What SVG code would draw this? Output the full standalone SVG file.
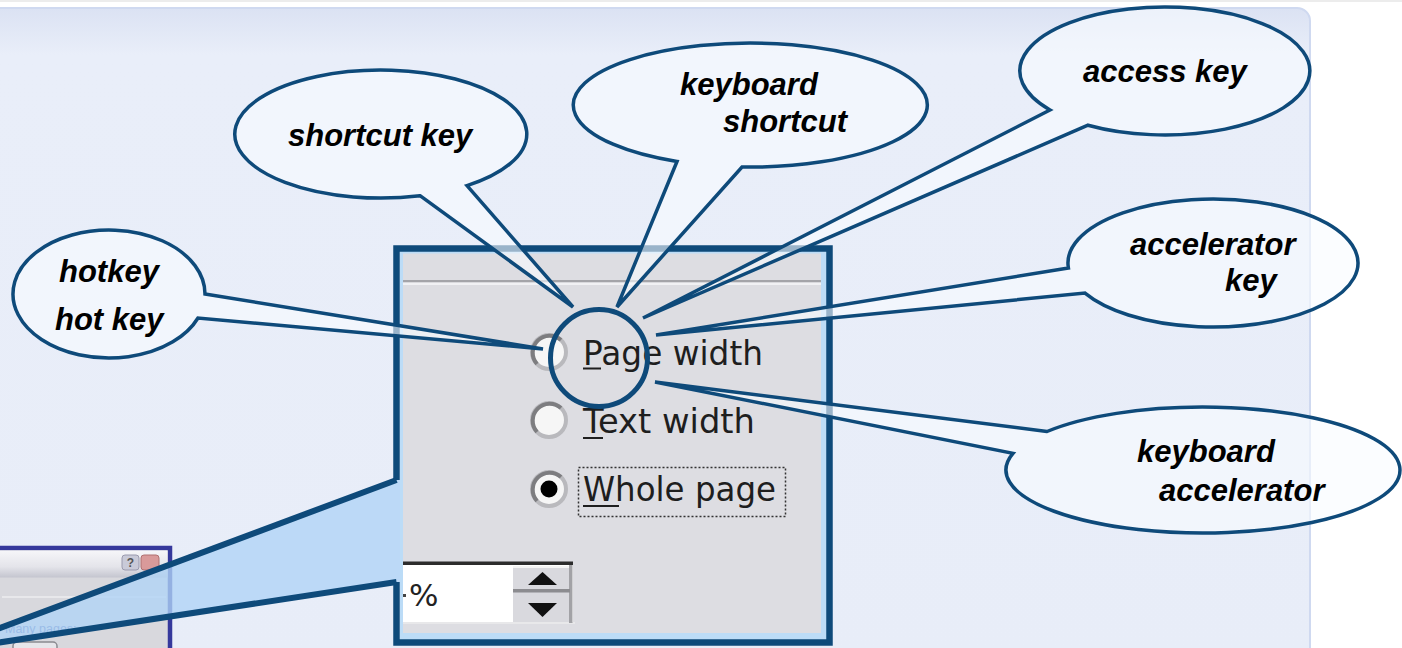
<svg xmlns="http://www.w3.org/2000/svg" width="1402" height="648" viewBox="0 0 1402 648">
  <defs>
    <linearGradient id="panelGrad" x1="0" y1="0" x2="0" y2="1">
      <stop offset="0" stop-color="#dbe2f3"/>
      <stop offset="0.07" stop-color="#e9eef9"/>
      <stop offset="1" stop-color="#e8edf8"/>
    </linearGradient>
    <linearGradient id="titleGrad" x1="0" y1="0" x2="0" y2="1">
      <stop offset="0" stop-color="#f6f6f9"/>
      <stop offset="0.6" stop-color="#e4e4ea"/>
      <stop offset="1" stop-color="#c4c5cf"/>
    </linearGradient>
    <style>
      .bubble { fill: #f8fbff; fill-opacity: 0.6; stroke: #0e4a7a; stroke-width: 3.5; stroke-linejoin: miter; }
      .lbl { font-family: "Liberation Sans", Arial, sans-serif; font-weight: bold; font-style: italic; font-size: 31px; fill: #000; }
      .ui { font-family: "DejaVu Sans", Tahoma, sans-serif; font-size: 34px; fill: #1e1e1e; }
      .frame { fill: none; stroke: #0e4a7a; stroke-width: 6.5; stroke-linejoin: miter; }
      .radio { fill: #f6f6f6; stroke: #b9b9bd; stroke-width: 4; }
      .radioShade { fill: none; stroke: #7d7d80; stroke-width: 4; }
      .ul { stroke: #1e1e1e; stroke-width: 2; }
    </style>
  </defs>

  <!-- page background -->
  <rect x="0" y="0" width="1402" height="648" fill="#ffffff"/>
  <rect x="0" y="0" width="1402" height="2" fill="#ececec"/>
  <rect id="panel" x="-20" y="8" width="1330" height="670" rx="13" fill="url(#panelGrad)" stroke="#cfd9f0" stroke-width="2"/>

  <!-- small dialog thumbnail -->
  <g id="thumbnail">
    <rect x="-4" y="548" width="174" height="110" fill="#d8d8dd" stroke="#35389c" stroke-width="4.5"/>
    <rect x="0" y="550.5" width="167.5" height="27" fill="url(#titleGrad)"/>
    <rect x="122" y="555" width="17" height="15" rx="3" fill="#c9cad8" stroke="#9a9aae" stroke-width="1"/>
    <text x="130.5" y="567" font-family="Liberation Sans, Arial, sans-serif" font-size="12" font-weight="bold" fill="#555" text-anchor="middle">?</text>
    <rect x="141" y="555" width="18" height="15" rx="3" fill="#d99a9a" stroke="#b07070" stroke-width="1"/>
    <line x1="2" y1="597" x2="166" y2="597" stroke="#eeeeef" stroke-width="1.5"/>
    <text x="5" y="633" font-family="Liberation Sans, Arial, sans-serif" font-size="12.5" fill="#4a68b0">Many pages:</text>
    <rect x="13" y="642" width="44" height="14" rx="4" fill="#e6e6ea" stroke="#8a8a90" stroke-width="1.5"/>
  </g>

  <!-- zoom cone -->
  <g id="connectors-cone">
    <polygon points="-6,630.2 396.5,480 403,480 403,582 396.5,582 -6,643.3" fill="#b0d4f6" fill-opacity="0.78"/>
  </g>

  <!-- enlarged dialog detail -->
  <g id="detail-box">
    <rect x="400" y="251" width="427" height="389" fill="#bcdcf7"/>
    <rect x="403" y="253.5" width="418" height="379.5" fill="#dddde2"/>
    <rect x="403" y="280" width="418" height="2.5" fill="#a4a4a9"/>
    <rect x="403" y="282.5" width="418" height="2.5" fill="#f1f1f4"/>

    <g id="radio-page">
      <circle class="radio" cx="549" cy="352" r="17"/>
      <path class="radioShade" d="M 537 364 A 17 17 0 0 1 561 340"/>
      <text class="ui" x="583" y="365" textLength="180" lengthAdjust="spacingAndGlyphs">Page width</text>
      <line class="ul" x1="583" y1="368.5" x2="601" y2="368.5"/>
    </g>
    <g id="radio-text">
      <circle class="radio" cx="549" cy="420" r="17"/>
      <path class="radioShade" d="M 537 432 A 17 17 0 0 1 561 408"/>
      <text class="ui" x="583" y="433" textLength="172" lengthAdjust="spacingAndGlyphs">Text width</text>
      <line class="ul" x1="583" y1="438" x2="603" y2="438"/>
    </g>
    <g id="radio-whole">
      <circle class="radio" cx="549" cy="489" r="17"/>
      <path class="radioShade" d="M 537 501 A 17 17 0 0 1 561 477"/>
      <circle cx="549" cy="489" r="8.5" fill="#000"/>
      <text class="ui" x="583" y="501" textLength="193" lengthAdjust="spacingAndGlyphs">Whole page</text>
      <line class="ul" x1="583" y1="506" x2="619" y2="506"/>
      <rect x="578.5" y="467.5" width="207" height="49" fill="none" stroke="#333" stroke-width="1.5" stroke-dasharray="2 2"/>
    </g>

    <g id="spinbox">
      <rect x="403" y="562" width="170" height="62" fill="#ffffff"/>
      <rect x="403" y="561.5" width="170" height="3.5" fill="#2c2c2c"/>
      <rect x="403" y="622" width="172" height="2" fill="#e8e8ea"/>
      <rect x="513" y="566" width="57" height="56" fill="#d9d9de"/>
      <rect x="513" y="566" width="57" height="2" fill="#f4f4f4"/>
      <rect x="569" y="565" width="3.5" height="58" fill="#a2a2a6"/>
      <rect x="513" y="589" width="57" height="3.5" fill="#8c8c90"/>
      <polygon points="528,585 557,585 542.5,572" fill="#111"/>
      <polygon points="528,603 557,603 542.5,617" fill="#111"/>
      <rect x="403" y="594" width="3" height="3" fill="#444"/>
      <text x="409" y="606" font-family="DejaVu Sans, Tahoma, sans-serif" font-size="31" fill="#222">%</text>
    </g>

    <!-- frame with opening for the zoom cone -->
    <path class="frame" d="M 396.5 480 V 248.5 H 829.5 V 642.5 H 396.5 V 582"/>
  </g>

  <!-- cone edges -->
  <g id="connectors">
    <path d="M -6 630.2 L 396.5 480" fill="none" stroke="#0e4a7a" stroke-width="6"/>
    <path d="M -6 643.3 L 396.5 582" fill="none" stroke="#0e4a7a" stroke-width="6"/>
  </g>

  <!-- callout bubbles -->
  <g id="bubble-hotkey">
    <path class="bubble" d="M 205 294 L 543 349 L 198 318 A 96 64 0 1 1 205 294 Z"/>
    <text class="lbl" x="59" y="282">hotkey</text>
    <text class="lbl" x="55" y="330">hot key</text>
  </g>
  <g id="bubble-shortcut-key">
    <path class="bubble" d="M 420 195.7 L 573 307 L 467 185.7 A 146 64 0 1 0 420 195.7 Z"/>
    <text class="lbl" x="288" y="146">shortcut key</text>
  </g>
  <g id="bubble-keyboard-shortcut">
    <path class="bubble" d="M 677 161.5 L 617 307 L 742 167 A 177 62 0 1 0 677 161.5 Z"/>
    <text class="lbl" x="680" y="95">keyboard</text>
    <text class="lbl" x="723" y="132">shortcut</text>
  </g>
  <g id="bubble-access-key">
    <path class="bubble" d="M 1050 110 L 643 318 L 1088 125.2 A 145 64 0 1 0 1050 110 Z"/>
    <text class="lbl" x="1083" y="82">access key</text>
  </g>
  <g id="bubble-accelerator-key">
    <path class="bubble" d="M 1068.4 268 L 656 335 L 1085 293.1 A 145 64 0 1 0 1068.4 268 Z"/>
    <text class="lbl" x="1130" y="255">accelerator</text>
    <text class="lbl" x="1225" y="291">key</text>
  </g>
  <g id="bubble-keyboard-accelerator">
    <path class="bubble" d="M 1047 431.5 L 655 382 L 1013 453.3 A 197 63 0 1 0 1047 431.5 Z"/>
    <text class="lbl" x="1137" y="462">keyboard</text>
    <text class="lbl" x="1159" y="501">accelerator</text>
  </g>

  <!-- focus circle -->
  <g id="focus-circle">
    <circle cx="599" cy="358" r="48.5" fill="none" stroke="#0e4a7a" stroke-width="5"/>
  </g>
</svg>
